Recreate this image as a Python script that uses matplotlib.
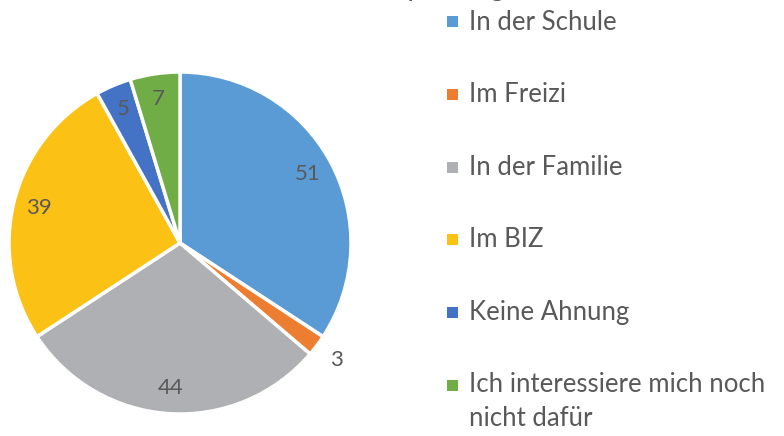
import matplotlib
import matplotlib.pyplot as plt
from matplotlib.patches import Rectangle

matplotlib.rcParams['font.family'] = ['Lato', 'DejaVu Sans']

labels = ['In der Schule', 'Im Freizi', 'In der Familie', 'Im BIZ',
          'Keine Ahnung', 'Ich interessiere mich noch\nnicht dafür']
values = [51, 3, 44, 39, 5, 7]
colors = ['#5B9BD5', '#ED7D31', '#AFB0B3', '#FBC115', '#4472C4', '#70AD47']
title = 'Hilfe bei der Berufsplanung.'

W, H = 784, 436
fig = plt.figure(figsize=(W / 100, H / 100), dpi=100)
txt_col = '#595959'

# pie area (pixel coords -> figure fraction)
cx, cy, r = 180, 243, 171
ax = fig.add_axes([(cx - r) / W, (H - cy - r) / H, 2 * r / W, 2 * r / H])
wedges, texts = ax.pie(values, colors=colors, startangle=90, counterclock=False,
                       labels=[str(v) for v in values], labeldistance=0.85,
                       wedgeprops=dict(edgecolor='white', linewidth=2.5),
                       textprops=dict(color=txt_col, fontsize=16))
for t in texts:
    t.set_ha('center')
    t.set_va('center')
# small slice label sits outside
x, y = texts[1].get_position()
texts[1].set_position((x * 1.14 / 0.85, y * 1.14 / 0.85))
ax.set_xlim(-1, 1)
ax.set_ylim(-1, 1)
ax.set_aspect('equal')
ax.axis('off')

# title, mostly cut off at top
fig.text(340 / W, (H + 4) / H, title, ha='center', va='baseline',
         fontsize=20, color=txt_col)

# legend drawn by hand
y0, dy = 22, 72.6
for i, (lab, col) in enumerate(zip(labels, colors)):
    yy = y0 + i * dy
    fig.patches.append(Rectangle((447 / W, (H - yy - 5.5) / H), 11 / W, 11 / H,
                                 transform=fig.transFigure, facecolor=col,
                                 edgecolor='none'))
    if '\n' in lab:
        fig.text(469 / W, (H - yy + 13) / H, lab, ha='left', va='top',
                 fontsize=18.5, color=txt_col, linespacing=1.45)
    else:
        fig.text(469 / W, (H - yy) / H, lab, ha='left', va='center',
                 fontsize=18.5, color=txt_col)

fig.savefig('out.png', dpi=100)
